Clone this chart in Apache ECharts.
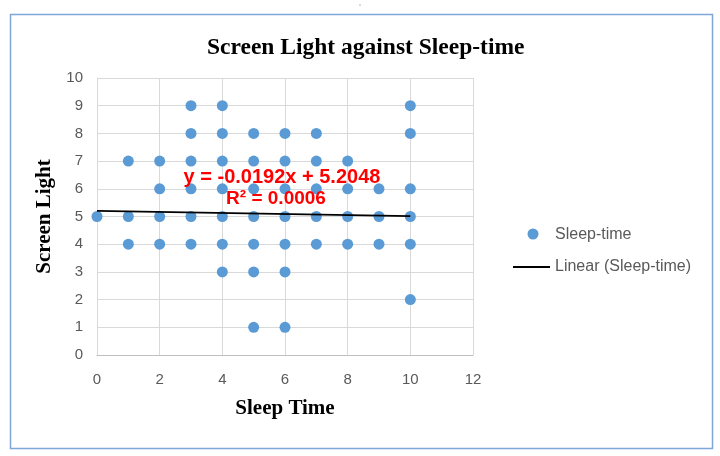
<!DOCTYPE html>
<html><head><meta charset="utf-8">
<script src="https://cdn.jsdelivr.net/npm/echarts@6/dist/echarts.min.js"></script>
<style>html,body{margin:0;padding:0;background:#fff}#c{width:720px;height:456px}</style>
</head><body><div id="c"></div>
<script>
// Sleep-time (x) and Screen Light (y) observations
const sleepTime   = [0, 1,1,1, 2,2,2,2, 3,3,3,3,3,3, 4,4,4,4,4,4,4, 5,5,5,5,5,5,5, 6,6,6,6,6,6,6, 7,7,7,7,7, 8,8,8,8, 9,9,9, 10,10,10,10,10,10];
const screenLight = [5, 7,5,4, 7,6,5,4, 9,8,7,6,5,4, 9,8,7,6,5,4,3, 8,7,6,5,4,3,1, 8,7,6,5,4,3,1, 8,7,6,5,4, 7,6,5,4, 6,5,4, 9,8,6,5,4,2];
const trendSlope = -0.0192;
const trendIntercept = 5.2048;
const trendXRange = [0, 10];
const eqText = 'y = -0.0192x + 5.2048';
const r2Text = 'R² = 0.0006';
const seriesNames = ['Sleep-time', 'Linear (Sleep-time)'];
const xTicks = [0, 2, 4, 6, 8, 10, 12];
const yTicks = [0,1,2,3,4,5,6,7,8,9,10];

const points = sleepTime.map((x, i) => [x, screenLight[i]]);
const trend = trendXRange.map(x => [x, trendIntercept + trendSlope * x]);

const chart = echarts.init(document.getElementById('c'), null, {renderer: 'canvas'});
const tickFont = {color: '#595959', fontSize: 15, fontFamily: 'Liberation Sans'};
const nameFont = {fontFamily: 'Liberation Serif', fontWeight: 'bold', fontSize: 21, color: '#000'};
const legendFont = '16px "Liberation Sans"';
chart.setOption({
  animation: false,
  title: {
    text: 'Screen Light against Sleep-time',
    left: 202, top: 31,
    textStyle: {fontFamily: 'Liberation Serif', fontWeight: 'bold', fontSize: 23.5, color: '#000'}
  },
  grid: {left: 97, right: 247, top: 78, bottom: 101},
  xAxis: {
    type: 'value', min: xTicks[0], max: xTicks[xTicks.length-1], interval: 2,
    name: 'Sleep Time', nameLocation: 'middle', nameGap: 43,
    nameTextStyle: nameFont,
    axisLine: {show: true, lineStyle: {color: '#bfbfbf'}},
    axisTick: {show: false},
    axisLabel: Object.assign({margin: 17}, tickFont),
    splitLine: {show: true, lineStyle: {color: '#d9d9d9'}}
  },
  yAxis: {
    type: 'value', min: yTicks[0], max: yTicks[yTicks.length-1], interval: 1,
    name: 'Screen Light', nameLocation: 'middle', nameGap: 41, nameRotate: 90,
    nameTextStyle: nameFont,
    axisLine: {show: true, lineStyle: {color: '#d9d9d9'}},
    axisTick: {show: false},
    axisLabel: Object.assign({margin: 14}, tickFont),
    splitLine: {show: true, lineStyle: {color: '#d9d9d9'}}
  },
  series: [
    {name: seriesNames[0], type: 'scatter', data: points, symbolSize: 11,
     itemStyle: {color: '#5b9bd5', opacity: 1}, z: 3},
    {name: seriesNames[1], type: 'line', data: trend, symbol: 'none',
     lineStyle: {color: '#000', width: 1.8}, z: 4}
  ],
  graphic: [
    {type: 'rect', z: -1, silent: true,
     shape: {x: 10.5, y: 14.5, width: 702, height: 434}, style: {fill: 'none', stroke: '#7ea6d8', lineWidth: 1.5}},
    {type: 'circle', silent: true, shape: {cx: 360, cy: 5, r: 0.6}, style: {fill: '#555'}},
    {type: 'text', x: 282, y: 177, z: 10,
     style: {text: eqText, fill: '#ff0000', font: 'bold 20px "Liberation Sans"', align: 'center', verticalAlign: 'middle'}},
    {type: 'text', x: 276, y: 199, z: 10,
     style: {text: r2Text, fill: '#ff0000', font: 'bold 19px "Liberation Sans"', align: 'center', verticalAlign: 'middle'}},
    // legend
    {type: 'circle', shape: {cx: 533, cy: 234, r: 5.5}, style: {fill: '#5b9bd5'}},
    {type: 'text', x: 555, y: 235, style: {text: seriesNames[0], fill: '#595959', font: legendFont, verticalAlign: 'middle'}},
    {type: 'line', shape: {x1: 513, y1: 267, x2: 550, y2: 267}, style: {stroke: '#000', lineWidth: 1.8}},
    {type: 'text', x: 555, y: 267, style: {text: seriesNames[1], fill: '#595959', font: legendFont, verticalAlign: 'middle'}}
  ]
});
</script></body></html>
